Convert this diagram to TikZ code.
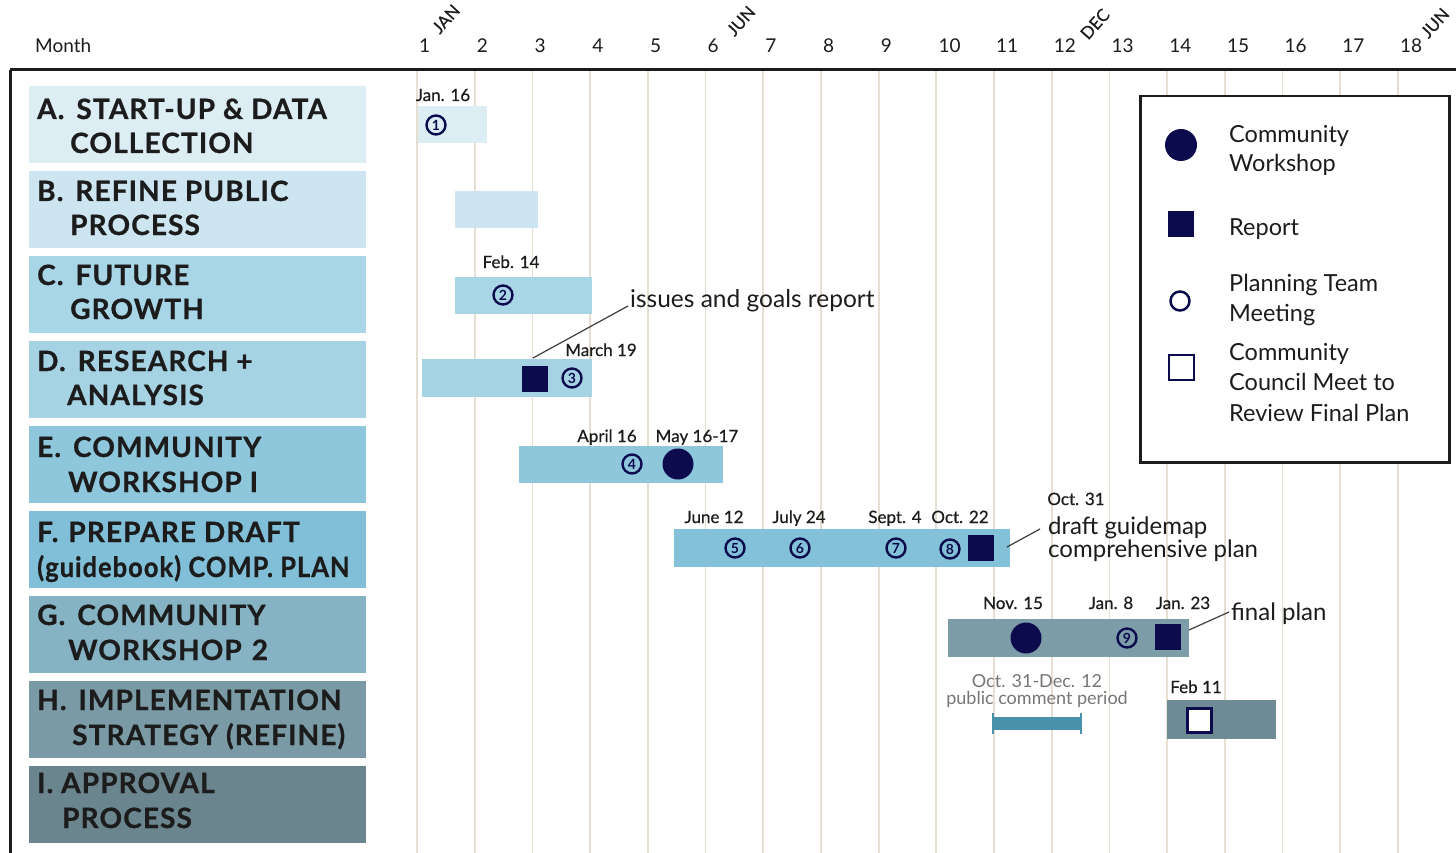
\documentclass[tikz,border=0pt]{standalone}
\usepackage{fontspec}
\setmainfont{Lato}
\newfontfamily\labfont{Lato}[BoldFeatures={FakeBold=0.8},LetterSpace=4]
\newfontfamily\medfont{Lato}[FakeBold=0.5]
\definecolor{navy}{HTML}{0B0B4D}
\definecolor{gridc}{HTML}{E6DED0}
\definecolor{txt}{HTML}{1C1C1C}
\definecolor{graytxt}{HTML}{767676}
\definecolor{labA}{HTML}{DCEDF4}
\definecolor{labB}{HTML}{CCE5F0}
\definecolor{labC}{HTML}{A9D6E6}
\definecolor{labD}{HTML}{A6D3E4}
\definecolor{labE}{HTML}{8EC7DC}
\definecolor{labF}{HTML}{80BFD7}
\definecolor{labG}{HTML}{86B3C3}
\definecolor{labH}{HTML}{7A9BA6}
\definecolor{labI}{HTML}{6B858E}
\definecolor{barA}{HTML}{DCEDF4}
\definecolor{barB}{HTML}{CCE5F0}
\definecolor{barC}{HTML}{A9D6E6}
\definecolor{barD}{HTML}{A6D3E4}
\definecolor{barE}{HTML}{8EC7DC}
\definecolor{barF}{HTML}{83C1D8}
\definecolor{barG}{HTML}{7C9CA8}
\definecolor{barH}{HTML}{6F8C96}
\definecolor{commc}{HTML}{4A92AB}
\begin{document}
\begin{tikzpicture}[x=1pt,y=-1pt,
 gridl/.style={draw=gridc,line width=1.8pt},
 rowbox/.style={fill=#1,draw=none,anchor=north west,minimum width=337pt,minimum height=77pt,inner sep=0pt,outer sep=0pt},
 labtxt/.style={anchor=base west,inner sep=0pt,font=\labfont\fontsize{28}{30}\selectfont\bfseries,text=txt},
 barbox/.style={fill=#1,draw=none,anchor=north west,inner sep=0pt,outer sep=0pt},
 datel/.style={anchor=base,inner sep=0pt,font=\medfont\fontsize{17}{20}\selectfont,text=txt},
 graylbl/.style={anchor=base,inner sep=0pt,font=\fontsize{18}{20}\selectfont,text=graytxt},
 numc/.style={circle,draw=navy,line width=2.4pt,minimum size=19pt,inner sep=0pt,font=\fontsize{14}{14}\selectfont\bfseries,text=navy},
 wsc/.style={circle,fill=navy,minimum size=31pt,inner sep=0pt},
 repsq/.style={rectangle,fill=navy,minimum size=26pt,inner sep=0pt},
 councilsq/.style={rectangle,draw=navy,fill=white,line width=3pt,minimum size=24pt,inner sep=0pt},
 lead/.style={draw=txt!85,line width=1.2pt},
 bigtxt/.style={anchor=base west,inner sep=0pt,font=\fontsize{24}{24}\selectfont,text=txt},
 legtxt/.style={anchor=base west,inner sep=0pt,font=\fontsize{23.5}{26}\selectfont,text=txt},
 hdr/.style={anchor=base west,inner sep=0pt,font=\fontsize{19}{20}\selectfont,text=txt},
 rot/.style={rotate=48,inner sep=0pt,font=\medfont\fontsize{17}{17}\selectfont,text=txt},
]
\useasboundingbox[fill=white] (0,0) rectangle (1456,853);

% grid lines
\foreach \k in {0,...,17} {
  \draw[gridl] ({417+57.7*\k},70) -- ({417+57.7*\k},853);
}

% header
\node[hdr] (month) at (35,53) {Month};
\foreach \k in {1,...,18} {
  \node[hdr] (m\k) at ({417+57.7*(\k-1)+2},53) {\k};
}
\node[rot] (jan) at (446,19) {JAN};
\node[rot] (jun1) at (741,21) {JUN};
\node[rot] (dec) at (1095,24) {DEC};
\node[rot] (jun2) at (1435,23) {JUN};

% frame lines
\draw[line width=3pt,draw=txt] (10,70) -- (1456,70);
\draw[line width=3pt,draw=txt] (10,70) -- (10,853);

% row labels
\node[rowbox=labA] (rA) at (29,86) {};
\node[labtxt] (tA1) at (37,119) {A.\hspace{12pt}START-UP \& DATA};
\node[labtxt] (tA2) at (70,153) {COLLECTION};
\node[rowbox=labB] (rB) at (29,171) {};
\node[labtxt] (tB1) at (37,201) {B.\hspace{12pt}REFINE PUBLIC};
\node[labtxt] (tB2) at (70,235) {PROCESS};
\node[rowbox=labC] (rC) at (29,256) {};
\node[labtxt] (tC1) at (37,285) {C.\hspace{12pt}FUTURE};
\node[labtxt] (tC2) at (70,319) {GROWTH};
\node[rowbox=labD] (rD) at (29,341) {};
\node[labtxt] (tD1) at (37,371) {D.\hspace{12pt}RESEARCH +};
\node[labtxt] (tD2) at (67,405) {ANALYSIS};
\node[rowbox=labE] (rE) at (29,426) {};
\node[labtxt] (tE1) at (37,457) {E.\hspace{12pt}COMMUNITY};
\node[labtxt] (tE2) at (68,492) {WORKSHOP I};
\node[rowbox=labF] (rF) at (29,511) {};
\node[labtxt] (tF1) at (37,542) {F.\hspace{10pt}PREPARE DRAFT};
\node[labtxt] (tF2) at (37,577) {\scalebox{0.91}[1]{(guidebook) COMP. PLAN}};
\node[rowbox=labG] (rG) at (29,596) {};
\node[labtxt] (tG1) at (37,625) {G.\hspace{12pt}COMMUNITY};
\node[labtxt] (tG2) at (68,660) {WORKSHOP\hspace{10pt}2};
\node[rowbox=labH] (rH) at (29,681) {};
\node[labtxt] (tH1) at (37,710) {H.\hspace{12pt}IMPLEMENTATION};
\node[labtxt] (tH2) at (72,745) {STRATEGY (REFINE)};
\node[rowbox=labI] (rI) at (29,766) {};
\node[labtxt] (tI1) at (37,793) {I. APPROVAL};
\node[labtxt] (tI2) at (62,828) {PROCESS};

% bars
\node[barbox=barA,minimum width=69pt,minimum height=37pt] (bA) at (418,106) {};
\node[barbox=barB,minimum width=83pt,minimum height=37pt] (bB) at (455,191) {};
\node[barbox=barC,minimum width=137pt,minimum height=37pt] (bC) at (455,277) {};
\node[barbox=barD,minimum width=170pt,minimum height=38pt] (bD) at (422,359) {};
\node[barbox=barE,minimum width=204pt,minimum height=37pt] (bE) at (519,446) {};
\node[barbox=barF,minimum width=336pt,minimum height=38pt] (bF) at (674,529) {};
\node[barbox=barG,minimum width=241pt,minimum height=38pt] (bG) at (948,619) {};
\node[barbox=barH,minimum width=109pt,minimum height=39pt] (bH) at (1167,700) {};

% public comment bar
\node[barbox=commc,minimum width=88pt,minimum height=13pt] (pcb) at (993,717) {};
\draw[commc,line width=2.5pt] ([yshift=4pt]pcb.north west) -- ([yshift=-4pt]pcb.south west);
\draw[commc,line width=2.5pt] ([yshift=4pt]pcb.north east) -- ([yshift=-4pt]pcb.south east);

% markers
\node[numc] (n1) at (436,125) {1};
\node[numc] (n2) at (503,295) {2};
\node[numc] (n3) at (572,378) {3};
\node[numc] (n4) at (632,464) {4};
\node[numc] (n5) at (735,548) {5};
\node[numc] (n6) at (800,548) {6};
\node[numc] (n7) at (896,548) {7};
\node[numc] (n8) at (950,549) {8};
\node[numc] (n9) at (1127,638) {9};
\node[wsc] (wE) at (678,464) {};
\node[wsc] (wG) at (1026,638) {};
\node[repsq] (sD) at (535,379) {};
\node[repsq] (sF) at (981,548) {};
\node[repsq] (sG) at (1168,637) {};
\node[councilsq] (sH) at (1199,720) {};

% date labels
\node[datel] (d1) at (443,101) {Jan. 16};
\node[datel] (d2) at (511,268) {Feb. 14};
\node[datel] (d3) at (601,356) {March 19};
\node[datel] (d4) at (607,442) {April 16};
\node[datel] (d5) at (697,442) {May 16-17};
\node[datel] (d6) at (714,523) {June 12};
\node[datel] (d7) at (799,523) {July 24};
\node[datel] (d8) at (895,523) {Sept. 4};
\node[datel] (d9) at (960,523) {Oct. 22};
\node[datel] (d10) at (1076,505) {Oct. 31};
\node[datel] (d11) at (1013,609) {Nov. 15};
\node[datel] (d12) at (1111,609) {Jan. 8};
\node[datel] (d13) at (1183,609) {Jan. 23};
\node[datel] (d14) at (1196,693) {Feb 11};
\node[graylbl] (g1) at (1037,687) {Oct. 31-Dec. 12};
\node[graylbl] (g2) at (1037,704) {public comment period};

% annotations
\node[bigtxt,font=\fontsize{24.5}{24}\selectfont] (iss) at (630,307) {issues and goals report};
\coordinate (cD) at (533,358);
\draw[lead] (cD) -- ([xshift=-2pt,yshift=1pt]iss.base west);
\node[bigtxt] (dg1) at (1048,534) {draft guidemap};
\node[bigtxt] (dg2) at (1048,557) {comprehensive plan};
\coordinate (cF) at (1007,547);
\draw[lead] (cF) -- ([xshift=-8pt,yshift=5pt]dg1.base west);
\node[bigtxt] (fp) at (1231,620) {final plan};
\coordinate (cG) at (1189,630);
\draw[lead] (cG) -- ([xshift=-2pt,yshift=8pt]fp.base west);

% legend
\node[draw=txt,line width=2.5pt,fill=white,anchor=north west,minimum width=309pt,minimum height=366pt,inner sep=0pt] (leg) at (1139,95) {};
\node[wsc,minimum size=32pt] (lg1) at (1181,145) {};
\node[legtxt] (lt1a) at (1229,143) {Community};
\node[legtxt] (lt1b) at (1229,172) {Workshop};
\node[repsq] (lg2) at (1181,224) {};
\node[legtxt] (lt2) at (1229,236) {Report};
\node[circle,draw=navy,line width=2.5pt,minimum size=19pt,inner sep=0pt] (lg3) at (1180,301) {};
\node[legtxt] (lt3a) at (1229,291) {Planning Team};
\node[legtxt] (lt3b) at (1229,321) {Meeting};
\node[rectangle,draw=navy,line width=2pt,fill=white,minimum size=25pt,inner sep=0pt] (lg4) at (1181,367) {};
\node[legtxt] (lt4a) at (1229,360) {Community};
\node[legtxt] (lt4b) at (1229,390) {Council Meet to};
\node[legtxt] (lt4c) at (1229,421) {Review Final Plan};
\end{tikzpicture}
\end{document}
